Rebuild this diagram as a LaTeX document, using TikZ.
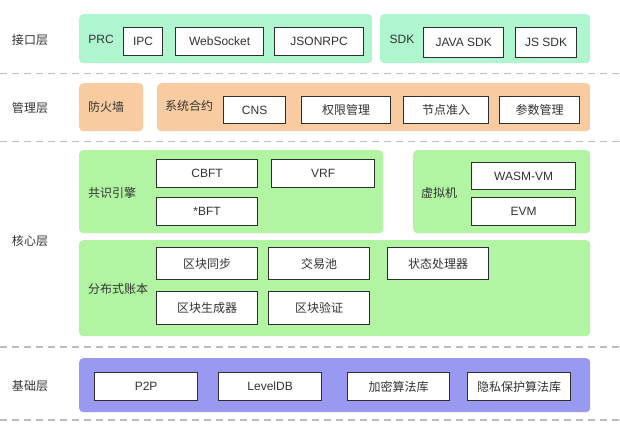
\documentclass[tikz,border=0pt]{standalone}
\usepackage{fontspec}
\setmainfont{Liberation Sans}
\newfontfamily\cjk{Noto Sans CJK SC}
\definecolor{mint}{HTML}{AFF5CF}
\definecolor{peach}{HTML}{F8CCA0}
\definecolor{leaf}{HTML}{B1F5A2}
\definecolor{lav}{HTML}{9999F2}
\definecolor{txt}{HTML}{333333}
\definecolor{linec}{HTML}{2E2E2E}
\definecolor{dashc}{HTML}{BDBDBD}
\tikzset{
  box/.style={draw=linec, line width=1.3pt, fill=white, anchor=north west, inner sep=0pt, text=txt, font=\fontsize{12}{14}\selectfont},
  cbox/.style={box, font=\fontsize{12}{14}\selectfont\cjk},
  grp/.style={rounded corners=4pt, anchor=north west, inner sep=0pt},
  lbl/.style={text=txt, inner sep=0pt, font=\fontsize{12}{14}\selectfont},
  clbl/.style={lbl, font=\fontsize{12}{14}\selectfont\cjk},
  sepline/.style={draw=dashc, line width=1.2pt, dash pattern=on 7pt off 5pt}
}
\begin{document}
\begin{tikzpicture}[x=1pt,y=-1pt]
\useasboundingbox (0,0) rectangle (620,431);
\fill[white] (0,0) rectangle (620,431);
% separators
\coordinate (s1a) at (0,73.5); \coordinate (s1b) at (620,73.5);
\coordinate (s2a) at (0,141.5); \coordinate (s2b) at (620,141.5);
\coordinate (s3a) at (0,347); \coordinate (s3b) at (620,347);
\coordinate (s4a) at (0,420); \coordinate (s4b) at (620,420);
\draw[sepline] (s1a) -- (s1b);
\draw[sepline] (s2a) -- (s2b);
\draw[sepline] (s3a) -- (s3b);
\draw[sepline] (s4a) -- (s4b);
% layer labels
\node[clbl] (l1) at (30,40) {接口层};
\node[clbl] (l2) at (30,108) {管理层};
\node[clbl] (l3) at (30,241) {核心层};
\node[clbl] (l4) at (30,386) {基础层};
% interface layer
\node[grp, fill=mint, minimum width=293pt, minimum height=49pt] (prcg) at (79,14) {};
\node[grp, fill=mint, minimum width=210pt, minimum height=49pt] (sdkg) at (380,14) {};
\node[lbl] (prc) at (101,39) {PRC};
\node[lbl] (sdk) at (402,39) {SDK};
\node[box, minimum width=39pt, minimum height=28pt] (ipc) at (123,27) {IPC};
\node[box, minimum width=88pt, minimum height=28pt] (ws) at (175,27) {WebSocket};
\node[box, minimum width=89pt, minimum height=28pt] (json) at (274,27) {JSONRPC};
\node[box, minimum width=80pt, minimum height=30pt] (java) at (423,27) {JAVA SDK};
\node[box, minimum width=61pt, minimum height=30pt] (js) at (515,27) {JS SDK};
% management layer
\node[grp, fill=peach, minimum width=64pt, minimum height=48pt] (fw) at (79,83) {};
\node[grp, fill=peach, minimum width=433pt, minimum height=48pt] (scg) at (157,83) {};
\node[clbl] (fwt) at (106,107) {防火墙};
\node[clbl] (sct) at (189,106) {系统合约};
\node[box, minimum width=62pt, minimum height=27pt] (cns) at (223,96) {CNS};
\node[cbox, minimum width=89pt, minimum height=27pt] (perm) at (301,96) {权限管理};
\node[cbox, minimum width=85pt, minimum height=27pt] (node) at (403,96) {节点准入};
\node[cbox, minimum width=80pt, minimum height=27pt] (param) at (499,96) {参数管理};
% core layer
\node[grp, fill=leaf, minimum width=304pt, minimum height=83pt] (consg) at (79,150) {};
\node[grp, fill=leaf, minimum width=177pt, minimum height=83pt] (vmg) at (413,150) {};
\node[grp, fill=leaf, minimum width=511pt, minimum height=96pt] (ledg) at (79,240) {};
\node[clbl] (const) at (112,193) {共识引擎};
\node[clbl] (vmt) at (439,193) {虚拟机};
\node[clbl] (ledt) at (118,289) {分布式账本};
\node[box, minimum width=101pt, minimum height=28pt] (cbft) at (156,159) {CBFT};
\node[box, minimum width=103pt, minimum height=28pt] (vrf) at (271,159) {VRF};
\node[box, minimum width=101pt, minimum height=28pt] (sbft) at (156,197) {*BFT};
\node[box, minimum width=104pt, minimum height=27pt] (wasm) at (471,162) {WASM-VM};
\node[box, minimum width=104pt, minimum height=28pt] (evm) at (471,197) {EVM};
\node[cbox, minimum width=101pt, minimum height=32pt] (sync) at (156,247) {区块同步};
\node[cbox, minimum width=101pt, minimum height=32pt] (pool) at (268,247) {交易池};
\node[cbox, minimum width=101pt, minimum height=32pt] (state) at (387,247) {状态处理器};
\node[cbox, minimum width=101pt, minimum height=33pt] (gen) at (156,291) {区块生成器};
\node[cbox, minimum width=101pt, minimum height=33pt] (ver) at (268,291) {区块验证};
% base layer
\node[grp, fill=lav, minimum width=511pt, minimum height=54pt] (baseg) at (79,358) {};
\node[box, minimum width=103pt, minimum height=28pt] (p2p) at (94,372) {P2P};
\node[box, minimum width=103pt, minimum height=28pt] (ldb) at (218,372) {LevelDB};
\node[cbox, minimum width=102pt, minimum height=28pt] (crypto) at (347,372) {加密算法库};
\node[cbox, minimum width=103pt, minimum height=28pt] (priv) at (467,372) {隐私保护算法库};
\end{tikzpicture}
\end{document}
